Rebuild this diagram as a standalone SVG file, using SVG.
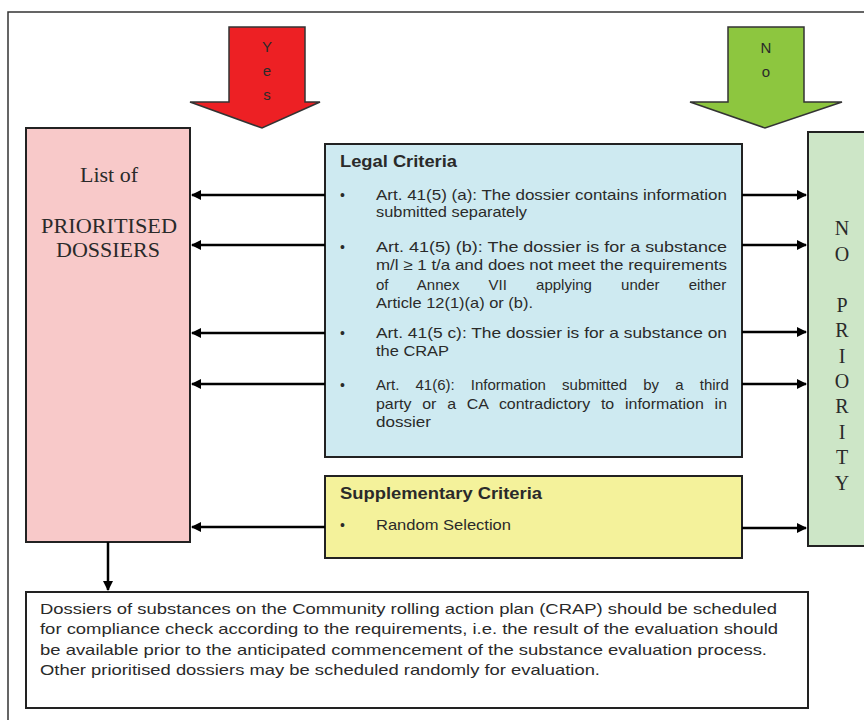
<svg xmlns="http://www.w3.org/2000/svg" width="864" height="720" viewBox="0 0 864 720">
<defs>
<marker id="ah" viewBox="0 0 10 10" refX="9" refY="5" markerWidth="4" markerHeight="4" orient="auto" markerUnits="strokeWidth"><path d="M0,0 L10,5 L0,10 z" fill="#000"/></marker>
<style>
.box{stroke:#222;stroke-width:2}
.body{font-family:"Liberation Sans",Arial,sans-serif;font-size:15px;fill:#2a2a2a}
.head{font-family:"Liberation Sans",Arial,sans-serif;font-size:16px;font-weight:bold;fill:#2a2a2a}
.serif{font-family:"Liberation Serif","Times New Roman",serif;fill:#2a2a2a}
.conn{stroke:#000;stroke-width:2.5;fill:none;marker-end:url(#ah)}
.bul{font-family:"Liberation Sans",Arial,sans-serif;font-size:14px;fill:#2a2a2a}
</style>
</defs>
<rect width="864" height="720" fill="#fff"/>
<path d="M8,720 L8,12 L864,12" fill="none" stroke="#333" stroke-width="1.5"/>

<g id="yes-arrow">
<polygon points="190,102 229,102 229,27 305,27 305,102 320,102 262,128" fill="#ED2024" stroke="#333" stroke-width="1.5"/>
<text x="267" y="52" text-anchor="middle" class="body" font-size="13">Y</text>
<text x="267" y="76" text-anchor="middle" class="body" font-size="13">e</text>
<text x="267" y="100" text-anchor="middle" class="body" font-size="13">s</text>
</g>

<g id="no-arrow">
<polygon points="690,102 728,102 728,27 804,27 804,102 842,102 765,128" fill="#8DC63F" stroke="#333" stroke-width="1.5"/>
<text x="766" y="53" text-anchor="middle" class="body" font-size="13">N</text>
<text x="766" y="77" text-anchor="middle" class="body" font-size="13">o</text>
</g>

<g id="prioritised">
<rect x="26" y="128" width="164" height="414" fill="#F8C9C9" class="box"/>
<text x="80" y="182" class="serif" font-size="21" textLength="58" lengthAdjust="spacingAndGlyphs">List of</text>
<text x="41" y="233" class="serif" font-size="21" textLength="136" lengthAdjust="spacingAndGlyphs">PRIORITISED</text>
<text x="56" y="257" class="serif" font-size="21" textLength="104" lengthAdjust="spacingAndGlyphs">DOSSIERS</text>
</g>

<g id="legal">
<rect x="325" y="144" width="417" height="313" fill="#CEEAF1" class="box"/>
<text x="340" y="167" class="head" textLength="117" lengthAdjust="spacingAndGlyphs">Legal Criteria</text>
<text x="340" y="200" class="bul">•</text>
<text x="376" y="200" class="body" textLength="351" lengthAdjust="spacingAndGlyphs">Art. 41(5) (a): The dossier contains information</text>
<text x="376" y="217" class="body" textLength="151" lengthAdjust="spacingAndGlyphs">submitted separately</text>
<text x="340" y="252" class="bul">•</text>
<text x="376" y="252" class="body" textLength="351" lengthAdjust="spacingAndGlyphs">Art. 41(5) (b): The dossier is for a substance</text>
<text x="376" y="270" class="body" textLength="351" lengthAdjust="spacingAndGlyphs">m/l ≥ 1 t/a and does not meet the requirements</text>
<text x="376" y="290" class="body" word-spacing="25">of Annex VII applying under either</text>
<text x="376" y="308" class="body" textLength="157" lengthAdjust="spacingAndGlyphs">Article 12(1)(a) or (b).</text>
<text x="340" y="338" class="bul">•</text>
<text x="376" y="338" class="body" textLength="351" lengthAdjust="spacingAndGlyphs">Art. 41(5 c): The dossier is for a substance on</text>
<text x="376" y="356" class="body" textLength="73" lengthAdjust="spacingAndGlyphs">the CRAP</text>
<text x="340" y="390" class="bul">•</text>
<text x="376" y="390" class="body" word-spacing="12">Art. 41(6): Information submitted by a third</text>
<text x="376" y="409" class="body" word-spacing="6" textLength="351" lengthAdjust="spacingAndGlyphs">party or a CA contradictory to information in</text>
<text x="376" y="427" class="body" textLength="55" lengthAdjust="spacingAndGlyphs">dossier</text>
</g>

<g id="supplementary">
<rect x="325" y="476" width="417" height="82" fill="#F4F29B" class="box"/>
<text x="340" y="499" class="head" textLength="202" lengthAdjust="spacingAndGlyphs">Supplementary Criteria</text>
<text x="340" y="530" class="bul">•</text>
<text x="376" y="530" class="body" textLength="135" lengthAdjust="spacingAndGlyphs">Random Selection</text>
</g>

<g id="no-priority">
<rect x="808" y="132" width="70" height="414" fill="#CDE6C7" class="box"/>
<g class="serif" font-size="20" text-anchor="middle">
<text x="842" y="235">N</text>
<text x="842" y="261">O</text>
<text x="842" y="312">P</text>
<text x="842" y="337">R</text>
<text x="842" y="363">I</text>
<text x="842" y="388">O</text>
<text x="842" y="413">R</text>
<text x="842" y="439">I</text>
<text x="842" y="464">T</text>
<text x="842" y="490">Y</text>
</g>
</g>

<g id="schedule">
<rect x="26" y="592" width="782" height="116" fill="#fff" class="box"/>
<g class="body" font-size="17">
<text x="40" y="614" textLength="737" lengthAdjust="spacingAndGlyphs">Dossiers of substances on the Community rolling action plan (CRAP) should be scheduled</text>
<text x="40" y="634" textLength="738" lengthAdjust="spacingAndGlyphs">for compliance check according to the requirements, i.e. the result of the evaluation should</text>
<text x="40" y="655" textLength="727" lengthAdjust="spacingAndGlyphs">be available prior to the anticipated commencement of the substance evaluation process.</text>
<text x="40" y="675" textLength="560" lengthAdjust="spacingAndGlyphs">Other prioritised dossiers may be scheduled randomly for evaluation.</text>
</g>
</g>

<g id="connectors">
<line x1="325" y1="195" x2="192" y2="195" class="conn"/>
<line x1="325" y1="245" x2="192" y2="245" class="conn"/>
<line x1="325" y1="333" x2="192" y2="333" class="conn"/>
<line x1="325" y1="384" x2="192" y2="384" class="conn"/>
<line x1="325" y1="527" x2="192" y2="527" class="conn"/>
<line x1="742" y1="195" x2="806" y2="195" class="conn"/>
<line x1="742" y1="245" x2="806" y2="245" class="conn"/>
<line x1="742" y1="332" x2="806" y2="332" class="conn"/>
<line x1="742" y1="384" x2="806" y2="384" class="conn"/>
<line x1="742" y1="528" x2="806" y2="528" class="conn"/>
<line x1="108" y1="542" x2="108" y2="590" class="conn" stroke-width="3"/>
</g>
</svg>
